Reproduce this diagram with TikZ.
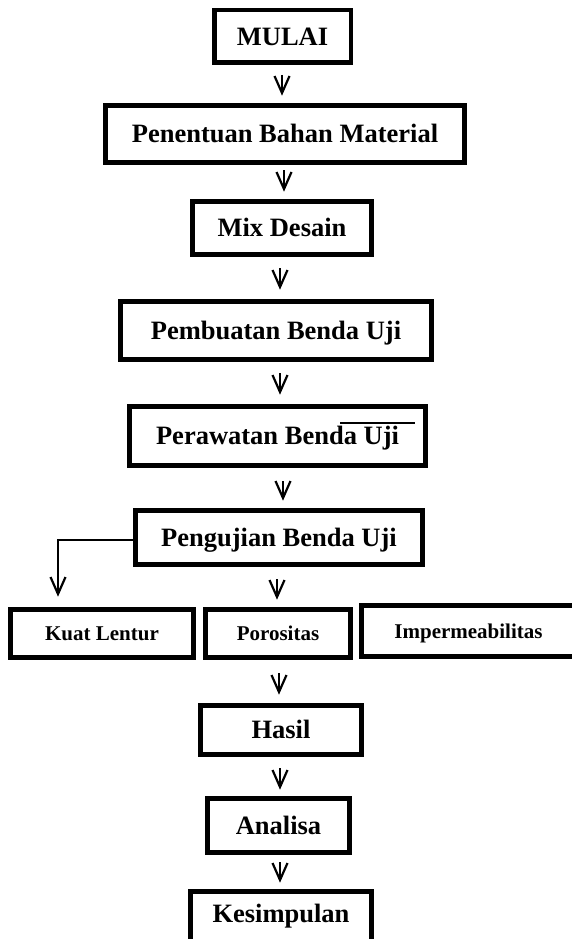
\documentclass[tikz,border=0pt]{standalone}
\usepackage{fontspec}
\setmainfont{Liberation Serif}
\usetikzlibrary{calc}
\tikzset{
  bigbox/.style={draw=black, line width=5pt, inner sep=0pt, outer sep=0pt,
    font=\fontsize{26.5}{30}\selectfont\bfseries, text height=17.5pt, text depth=0pt},
  smallbox/.style={draw=black, line width=5pt, inner sep=0pt, outer sep=0pt,
    font=\fontsize{21}{24}\selectfont\bfseries, text height=14pt, text depth=0pt},
  stemline/.style={line width=2pt},
  headline/.style={line width=2.2pt, line join=miter, miter limit=20},
  thinline/.style={line width=1.5pt}
}
\newcommand\myvhead[1]{\draw[headline] ($(#1)+(-7.5,-17)$) -- (#1) -- ($(#1)+(7.5,-17)$);}
\begin{document}
\begin{tikzpicture}[x=1pt,y=-1pt]
\useasboundingbox (0,0) rectangle (571,939);
% boxes
\node[bigbox, line width=4.5pt, minimum width=136.5pt, minimum height=52.5pt] (mulai) at (282.5,36.5) {MULAI};
\node[bigbox, minimum width=359pt, minimum height=57pt] (pen) at (285,134) {Penentuan Bahan Material};
\node[bigbox, minimum width=179pt, minimum height=53pt] (mix) at (282,228) {Mix Desain};
\node[bigbox, minimum width=311pt, minimum height=58pt] (pem) at (276,330.5) {Pembuatan Benda Uji};
\node[bigbox, minimum width=296pt, minimum height=59pt] (per) at (277.5,436) {Perawatan Benda Uji};
\node[bigbox, minimum width=287pt, minimum height=54pt] (pgj) at (279,537.5) {Pengujian Benda Uji};
\node[smallbox, minimum width=183pt, minimum height=48pt] (kl) at (102,633.5) {Kuat Lentur};
\node[smallbox, minimum width=145pt, minimum height=48pt] (por) at (278,633.5) {Porositas};
\node[smallbox, minimum width=214pt, minimum height=51pt] (imp) at (468.5,631) {Impermeabilitas};
\node[bigbox, minimum width=161pt, minimum height=49pt] (has) at (281,730) {Hasil};
\node[bigbox, minimum width=142pt, minimum height=54pt] (ana) at (278.5,825.5) {Analisa};
\node[bigbox, minimum width=181pt, minimum height=53pt, text depth=8pt] (kes) at (281,918) {Kesimpulan};
% stray overline in Perawatan box
\draw[thinline] ($(per.center)+(62.5,-13)$) -- ($(per.center)+(137.5,-13)$);
% arrow tips
\coordinate (t1) at ($(mulai.south |- pen.north)+(-0.5,-12.5)$);
\coordinate (t2) at ($(pen.south |- mix.north)+(-1,-12.5)$);
\coordinate (t3) at ($(mix.south |- pem.north)+(-2,-14.5)$);
\coordinate (t4) at ($(pem.south |- per.north)+(4,-14.5)$);
\coordinate (t5) at ($(per.south |- pgj.north)+(5.5,-12.5)$);
\coordinate (t6) at ($(pgj.south |- por.north)+(-2,-12.5)$);
\coordinate (t7) at ($(por.south |- has.north)+(1,-13.5)$);
\coordinate (t8) at ($(has.south |- ana.north)+(-1,-11.5)$);
\coordinate (t9) at ($(ana.south |- kes.north)+(1.5,-11.5)$);
\coordinate (kltip) at ($(kl.north)+(-44,-15.5)$);
% arrows
\draw[stemline] ($(mulai.south)+(-0.5,12.25)$) -- (t1); \myvhead{t1}
\draw[stemline] ($(pen.south)+(-1,7.5)$) -- (t2); \myvhead{t2}
\draw[stemline] ($(mix.south)+(-2,13.5)$) -- (t3); \myvhead{t3}
\draw[stemline] ($(pem.south)+(4,13.5)$) -- (t4); \myvhead{t4}
\draw[stemline] ($(per.south)+(5.5,15.5)$) -- (t5); \myvhead{t5}
\draw[stemline] ($(pgj.south)+(-2,14.5)$) -- (t6); \myvhead{t6}
\draw[stemline] ($(por.south)+(1,15.5)$) -- (t7); \myvhead{t7}
\draw[stemline] ($(has.south)+(-1,13.5)$) -- (t8); \myvhead{t8}
\draw[stemline] ($(ana.south)+(1.5,9.5)$) -- (t9); \myvhead{t9}
% branch to Kuat Lentur
\draw[thinline] ($(pgj.west)+(0,2.5)$) -| ($(kltip)+(0,-17)$);
\draw[stemline] ($(kltip)+(0,-17)$) -- (kltip); \myvhead{kltip}
\end{tikzpicture}
\end{document}
